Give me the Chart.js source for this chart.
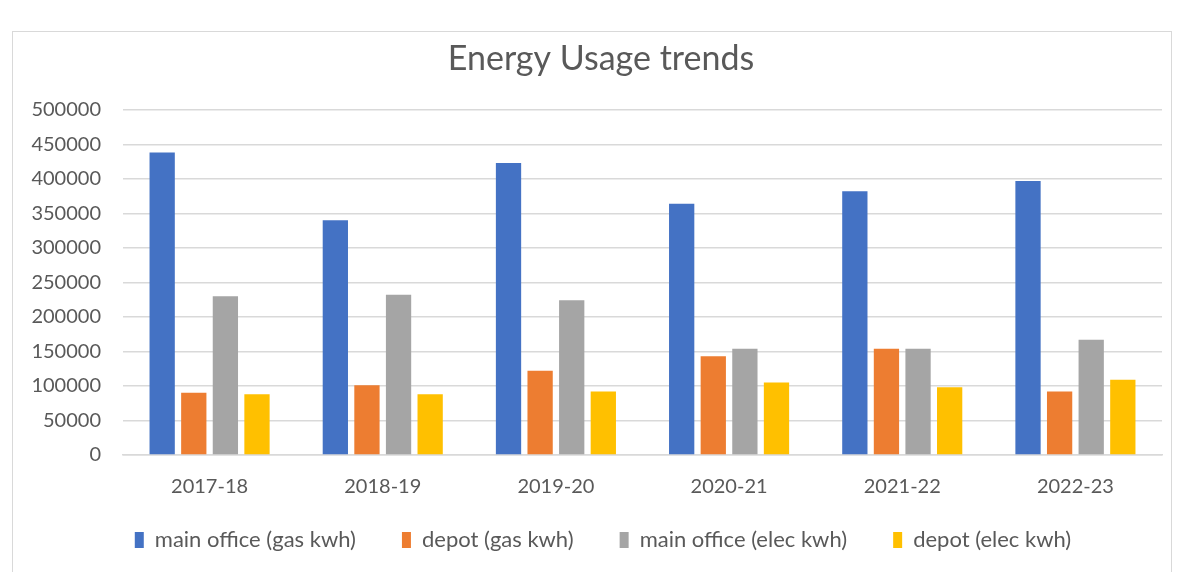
<!DOCTYPE html>
<html>
<head>
<meta charset="utf-8">
<script src="https://cdn.jsdelivr.net/npm/chart.js"></script>
<style>
  html, body { margin: 0; padding: 0; background: #fff; overflow: hidden; }
  #wrap { position: absolute; left: 0; top: 0; width: 1178px; height: 572px; }
  #frame { position: absolute; left: 12px; top: 31px; width: 1160px; height: 560px; border: 1px solid #d9d9d9; box-sizing: border-box; }
  canvas { position: absolute; left: 0; top: 0; }
</style>
</head>
<body>
<div id="wrap">
  <div id="frame"></div>
  <canvas id="energy" width="1178" height="572"></canvas>
</div>
<script>
const years = ['2017-18', '2018-19', '2019-20', '2020-21', '2021-22', '2022-23'];
const mainOfficeGas = [438000, 340000, 423000, 364000, 382000, 397000];
const depotGas = [90000, 101000, 122000, 143000, 154000, 92000];
const mainOfficeElec = [230000, 232000, 224000, 154000, 154000, 167000];
const depotElec = [88000, 88000, 92000, 105000, 98000, 109000];

const fontFamily = 'Lato, "Open Sans", sans-serif';
const textGrey = '#595959';

function series(label, values, color) {
    return {
        label: label,
        data: values,
        backgroundColor: color,
        borderWidth: 0,
        categoryPercentage: 0.73,
        barPercentage: 0.8
    };
}

// legend keeps its wide item gaps but sits a bit higher, closer to the axis labels;
// title and legend are centred a little right of the canvas middle, like the original
const nudge = {
    id: 'nudge',
    afterLayout: function (chart) {
        chart.legend.top -= 16;
        chart.legend.bottom -= 16;
        chart.legend.left += 44;
        chart.titleBlock.left += 40;
    }
};

const config = {
    type: 'bar',
    data: {
        labels: years,
        datasets: [
            series('main office (gas kwh)', mainOfficeGas, '#4472C4'),
            series('depot (gas kwh)', depotGas, '#ED7D31'),
            series('main office (elec kwh)', mainOfficeElec, '#A5A5A5'),
            series('depot (elec kwh)', depotElec, '#FFC000')
        ]
    },
    options: {
        responsive: false,
        animation: false,
        layout: { padding: { left: 0, right: 16, top: 0, bottom: 0 } },
        plugins: {
            title: {
                display: true,
                text: 'Energy Usage trends',
                color: textGrey,
                font: { family: fontFamily, size: 34, weight: 'normal' },
                padding: { top: 39, bottom: 30 }
            },
            legend: {
                position: 'bottom',
                maxHeight: 73,
                labels: {
                    color: textGrey,
                    font: { family: fontFamily, size: 22 },
                    boxWidth: 9,
                    boxHeight: 16,
                    padding: 46
                }
            },
            tooltip: { enabled: false }
        },
        scales: {
            x: {
                afterFit: function (scale) { scale.height = 44; },
                grid: { display: false },
                border: { color: '#d9d9d9', width: 1.5 },
                ticks: { color: textGrey, font: { family: fontFamily, size: 20 }, padding: 12 }
            },
            y: {
                min: 0,
                max: 500000,
                afterFit: function (scale) { scale.width = 123; },
                grid: { color: '#d9d9d9', lineWidth: 1.5, drawTicks: false },
                border: { display: false },
                ticks: {
                    stepSize: 50000,
                    color: textGrey,
                    font: { family: fontFamily, size: 20 },
                    padding: 22,
                    callback: function (value) { return String(value); }
                }
            }
        }
    },
    plugins: [nudge]
};

const chart = new Chart(document.getElementById('energy'), config);
</script>
</body>
</html>
